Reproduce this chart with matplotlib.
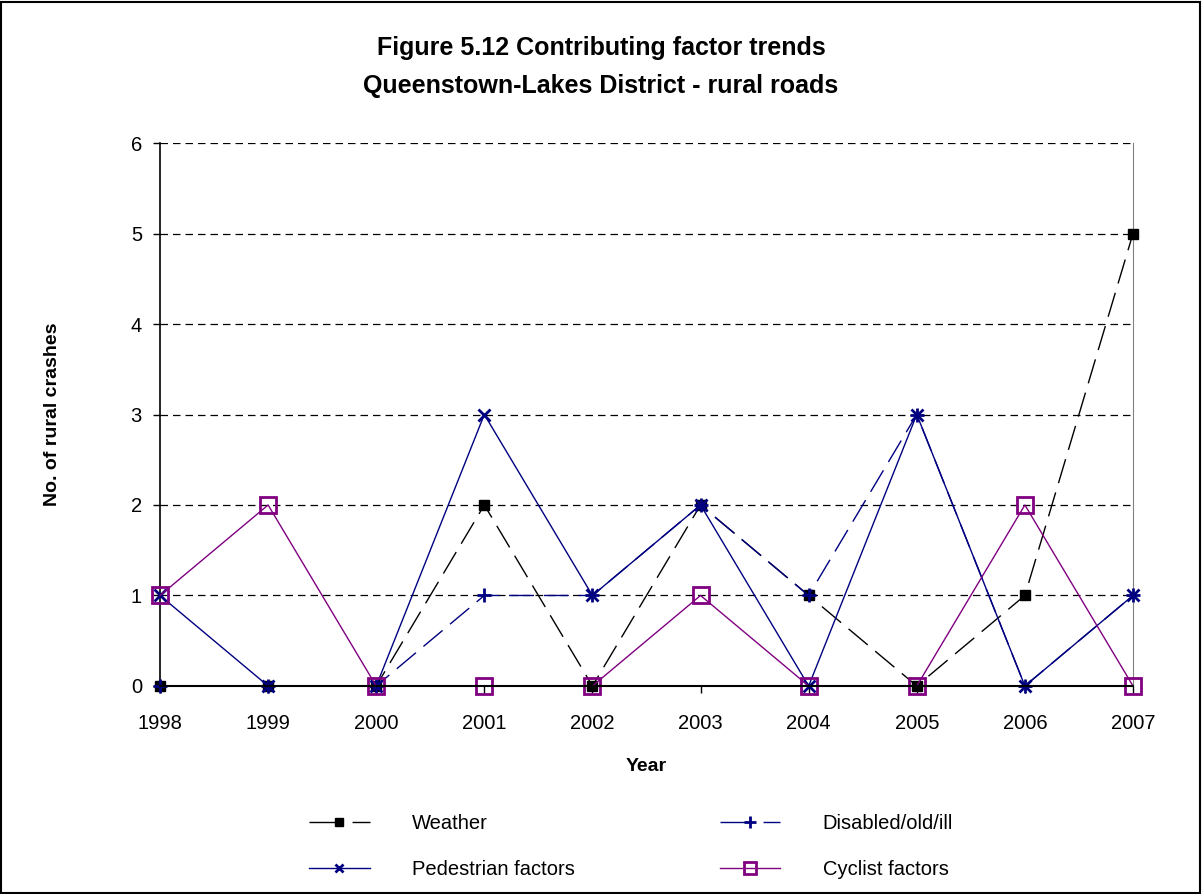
import numpy as np
import matplotlib
matplotlib.use("Agg")
import matplotlib.pyplot as plt
from matplotlib.patches import Rectangle
from matplotlib.lines import Line2D

plt.rcParams['font.family'] = ['Liberation Sans', 'DejaVu Sans']

# data
years = ['1998', '1999', '2000', '2001', '2002', '2003', '2004', '2005', '2006', '2007']
weather = [0, 0, 0, 2, 0, 2, 1, 0, 1, 5]
disabled = [0, 0, 0, 1, 1, 2, 1, 3, 0, 1]
pedestrian = [1, 0, 0, 3, 1, 2, 0, 3, 0, 1]
cyclist = [1, 2, 0, 0, 0, 1, 0, 0, 2, 0]

navy = '#000080'
purple = '#800080'

fig = plt.figure(figsize=(12.02, 8.94), dpi=100)
ax = fig.add_axes([0.1331, 0.2327, 0.8095, 0.6073])

x = np.arange(len(years))

# gridlines
for v in range(1, 7):
    ax.axhline(v, color='black', lw=0.9, dashes=(6, 4), zorder=1)

ax.plot(x, weather, color='black', lw=1, dashes=(18, 7), clip_on=False,
        marker='s', ms=7, mfc='black', mec='black', zorder=3)
ax.plot(x, disabled, color=navy, lw=1, dashes=(18, 7), clip_on=False,
        marker='+', ms=10, mew=2, mec=navy, zorder=4)
ax.plot(x, pedestrian, color=navy, lw=1, clip_on=False,
        marker='x', ms=8, mew=2, mec=navy, zorder=4)
ax.plot(x, cyclist, color=purple, lw=1, clip_on=False,
        marker='s', ms=11, mfc='none', mec=purple, mew=2, zorder=5)

ax.set_xlim(0, len(years) - 1)
ax.set_ylim(0, 6)
ax.set_yticks(range(0, 7))
ax.set_xticks(x)
ax.set_xticklabels(years)
ax.tick_params(axis='both', labelsize=14.5, length=5, width=1, direction='out')
ax.tick_params(axis='y', pad=8)
ax.tick_params(axis='x', pad=15)

ax.spines['top'].set_visible(False)
ax.spines['right'].set_color('#808080')
ax.spines['left'].set_linewidth(1.2)
ax.spines['bottom'].set_linewidth(1.5)
ax.spines['bottom'].set_zorder(6)

ax.set_xlabel('Year', fontsize=14, fontweight='bold', labelpad=18)
ax.set_ylabel('No. of rural crashes', fontsize=14, fontweight='bold', labelpad=50)

fig.suptitle('Figure 5.12 Contributing factor trends\nQueenstown-Lakes District - rural roads',
             fontsize=18, fontweight='bold', y=0.96, linespacing=1.75)

# legend proxies with a shorter dash so the pattern shows in the short handle
h1 = Line2D([], [], color='black', lw=1, dashes=(22, 9), marker='s', ms=6, mfc='black')
h2 = Line2D([], [], color=navy, lw=1, dashes=(22, 9), marker='+', ms=9, mew=2)
h3 = Line2D([], [], color=navy, lw=1, marker='x', ms=6, mew=2)
h4 = Line2D([], [], color=purple, lw=1, marker='s', ms=9, mfc='none', mew=2)

# matplotlib fills legend columns first, so order handles to read row by row
fig.legend(handles=[h1, h3, h2, h4],
           labels=['Weather', 'Pedestrian factors', 'Disabled/old/ill', 'Cyclist factors'],
           loc='center', ncol=2, bbox_to_anchor=(0.525, 0.053), frameon=False,
           fontsize=14.5, handlelength=3.0, handletextpad=2.1, columnspacing=7.2,
           labelspacing=1.35)

# border around the whole figure
fig.patches.append(Rectangle((0.001, 0.001), 0.997, 0.997, transform=fig.transFigure,
                             fill=False, edgecolor='black', lw=1.5))

plt.savefig('out.png', dpi=100)
